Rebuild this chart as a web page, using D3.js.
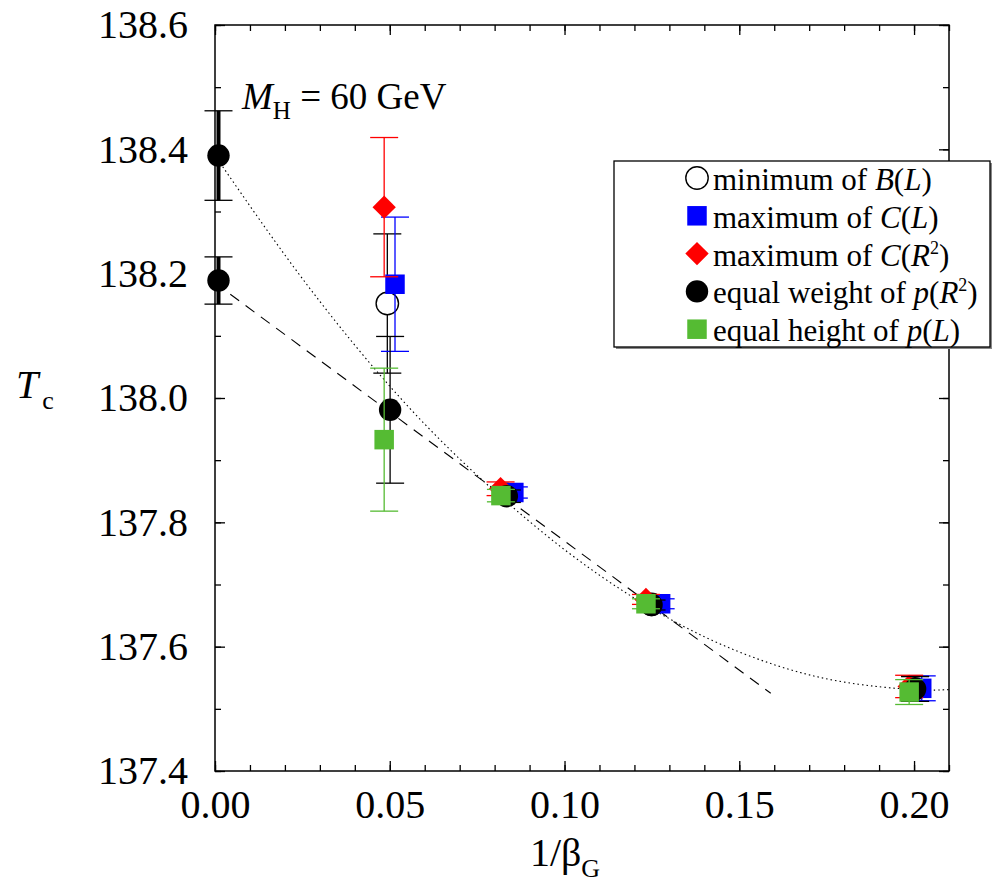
<!DOCTYPE html>
<html>
<head>
<meta charset="utf-8">
<script src="https://cdn.jsdelivr.net/npm/d3@7"></script>
<style>
body { margin: 0; background: #fff; }
text { font-family: "Liberation Serif", "Times New Roman", serif; fill: #000; }
</style>
</head>
<body>
<svg id="chart" width="992" height="890"></svg>
<script>
// tick labels
var xMajor = [0, 0.05, 0.10, 0.15, 0.20];
var yMajor = [137.4, 137.6, 137.8, 138.0, 138.2, 138.4, 138.6];

// [1/beta_G, Tc, error]  (points are shifted a little sideways in the original)
var minB = [[0.0493, 138.152, 0.112], [0.0835, 137.845, 0.010], [0.1249, 137.668, 0.008], [0.2003, 137.532, 0.020]];
var maxCL = [[0.0515, 138.183, 0.108], [0.0855, 137.848, 0.009], [0.1275, 137.669, 0.008], [0.2022, 137.533, 0.020]];
var maxCR2 = [[0.0484, 138.307, 0.112], [0.0817, 137.854, 0.011], [0.1233, 137.676, 0.008], [0.1986, 137.536, 0.018]];
var eqWeight = [[0.0501, 137.981, 0.118], [0.0835, 137.842, 0.010], [0.1249, 137.667, 0.008], [0.2003, 137.532, 0.020]];
var eqHeight = [[0.0484, 137.933, 0.115], [0.0818, 137.843, 0.010], [0.1233, 137.669, 0.008], [0.1986, 137.527, 0.020]];
// continuum extrapolations
var extrap = [[0.001, 138.390, 0.072], [0.001, 138.189, 0.038]];

// fit curves
var dottedFit = [[0, 138.390], [0.02, 138.230], [0.04, 138.085], [0.06, 137.958], [0.08, 137.850],
	[0.10, 137.756], [0.12, 137.678], [0.14, 137.616], [0.16, 137.571], [0.18, 137.543],
	[0.20, 137.531], [0.21, 137.531]];
var dashedFit = [[0, 138.185], [0.159, 137.525]];

var svg = d3.select("#chart");
var x = d3.scaleLinear().domain([0, 0.21]).range([215, 949]);
var y = d3.scaleLinear().domain([137.4, 138.6]).range([771, 25]);

function clean(g) {
	g.select(".domain").remove();
	g.attr("font-family", null).attr("font-size", null);
	g.selectAll("line").attr("stroke", "#000").attr("stroke-width", 1.3);
	g.selectAll("text").style("font-size", "40px");
}

// axes, ticks pointing inward on all four sides
svg.append("g").attr("transform", "translate(0,771)")
	.call(d3.axisBottom(x).tickValues(x.ticks(21)).tickSize(-6).tickFormat("")).call(clean);
svg.append("g").attr("transform", "translate(0,771)")
	.call(d3.axisBottom(x).tickValues(xMajor).tickSize(-10).tickPadding(19).tickFormat(d3.format(".2f"))).call(clean);
svg.append("g").attr("transform", "translate(0,25)")
	.call(d3.axisTop(x).tickValues(x.ticks(21)).tickSize(-6).tickFormat("")).call(clean);
svg.append("g").attr("transform", "translate(0,25)")
	.call(d3.axisTop(x).tickValues(xMajor).tickSize(-10).tickFormat("")).call(clean);

svg.append("g").attr("transform", "translate(215,0)")
	.call(d3.axisLeft(y).tickValues(y.ticks(12)).tickSize(-6).tickFormat("")).call(clean);
svg.append("g").attr("transform", "translate(215,0)")
	.call(d3.axisLeft(y).tickValues(yMajor).tickSize(-10).tickPadding(27).tickFormat(d3.format(".1f"))).call(clean);
svg.append("g").attr("transform", "translate(949,0)")
	.call(d3.axisRight(y).tickValues(y.ticks(12)).tickSize(-6).tickFormat("")).call(clean);
svg.append("g").attr("transform", "translate(949,0)")
	.call(d3.axisRight(y).tickValues(yMajor).tickSize(-10).tickFormat("")).call(clean);

svg.append("rect")
	.attr("x", x(0)).attr("y", y(138.6))
	.attr("width", x(0.21) - x(0)).attr("height", y(137.4) - y(138.6))
	.attr("fill", "none").attr("stroke", "#000").attr("stroke-width", 1.5);

// fits
svg.append("path").datum(dottedFit)
	.attr("d", d3.line().x(d => x(d[0])).y(d => y(d[1])).curve(d3.curveNatural))
	.attr("fill", "none").attr("stroke", "#000").attr("stroke-width", 1.1)
	.attr("stroke-dasharray", "1.5,3");
svg.append("path").datum(dashedFit)
	.attr("d", d3.line().x(d => x(d[0])).y(d => y(d[1])))
	.attr("fill", "none").attr("stroke", "#000").attr("stroke-width", 1.1)
	.attr("stroke-dasharray", "11,8");

function errorBars(data, color, width) {
	var g = svg.append("g").attr("stroke", color);
	g.selectAll(".v").data(data).enter().append("line")
		.attr("x1", d => x(d[0])).attr("x2", d => x(d[0]))
		.attr("y1", d => y(d[1] + d[2])).attr("y2", d => y(d[1] - d[2]))
		.attr("stroke-width", width);
	[1, -1].forEach(function(s) {
		g.selectAll(".c" + s).data(data).enter().append("line")
			.attr("x1", d => x(d[0]) - 14).attr("x2", d => x(d[0]) + 14)
			.attr("y1", d => y(d[1] + s * d[2])).attr("y2", d => y(d[1] + s * d[2]))
			.attr("stroke-width", 1.3);
	});
}

var symCircle = d3.symbol().type(d3.symbolCircle).size(Math.PI * 11.2 * 11.2)();
var symSquare = d3.symbol().type(d3.symbolSquare).size(19.5 * 19.5)();
var symDiamond = d3.symbol().type(d3.symbolSquare).size(16.5 * 16.5)();

function markers(data, path, fill, stroke, rot) {
	svg.append("g").selectAll("path").data(data).enter().append("path")
		.attr("d", path)
		.attr("transform", d => "translate(" + x(d[0]) + "," + y(d[1]) + ")" + (rot ? " rotate(45)" : ""))
		.attr("fill", fill)
		.attr("stroke", stroke)
		.attr("stroke-width", stroke === "none" ? 0 : 1.4);
}

var blue = "#0000ff", red = "#ff0000", green = "#55bb33";

errorBars(minB, "#000", 1.3);
markers(minB, symCircle, "#fff", "#000", false);
errorBars(maxCL, blue, 1.3);
markers(maxCL, symSquare, blue, "none", false);
errorBars(maxCR2, red, 1.3);
markers(maxCR2, symDiamond, red, "none", true);
errorBars(eqWeight, "#000", 1.3);
markers(eqWeight, symCircle, "#000", "none", false);
errorBars(eqHeight, green, 1.3);
markers(eqHeight, symSquare, green, "none", false);

errorBars(extrap, "#000", 4);
markers(extrap, symCircle, "#000", "none", false);

// annotation
var ann = svg.append("text").attr("x", 242).attr("y", 109).style("font-size", "37px");
ann.append("tspan").style("font-style", "italic").text("M");
ann.append("tspan").attr("dy", 10).style("font-size", "25px").text("H");
ann.append("tspan").attr("dy", -10).text(" = 60 GeV");

// axis titles
var yt = svg.append("text").attr("x", 16).attr("y", 398).style("font-size", "40px");
yt.append("tspan").style("font-style", "italic").text("T");
yt.append("tspan").attr("dy", 11).attr("dx", 4).style("font-size", "26px").text("c");

var xt = svg.append("text").attr("x", 565).attr("y", 866).attr("text-anchor", "middle").style("font-size", "40px");
xt.append("tspan").text("1/β");
xt.append("tspan").attr("dy", 11).style("font-size", "26px").text("G");

// legend
var legendNames = [
	[["minimum of ", 0], ["B", 1], ["(", 0], ["L", 1], [")", 0]],
	[["maximum of ", 0], ["C", 1], ["(", 0], ["L", 1], [")", 0]],
	[["maximum of ", 0], ["C", 1], ["(", 0], ["R", 1], ["2", 2], [")", 0]],
	[["equal weight of ", 0], ["p", 1], ["(", 0], ["R", 1], ["2", 2], [")", 0]],
	[["equal height of ", 0], ["p", 1], ["(", 0], ["L", 1], [")", 0]]
];
var legendSyms = [
	[symCircle, "#fff", "#000", false],
	[symSquare, blue, "none", false],
	[symDiamond, red, "none", true],
	[symCircle, "#000", "none", false],
	[symSquare, green, "none", false]
];

var lx = 614, ly = 161, lw = 376, lh = 186;
svg.append("rect").attr("x", lx + 2).attr("y", ly + 2).attr("width", lw).attr("height", lh)
	.attr("fill", "#888");
svg.append("rect").attr("x", lx).attr("y", ly).attr("width", lw).attr("height", lh)
	.attr("fill", "#fff").attr("stroke", "#000").attr("stroke-width", 1.3);

legendNames.forEach(function(parts, i) {
	var cy = 178 + i * 37.8;
	var s = legendSyms[i];
	svg.append("path").attr("d", s[0])
		.attr("transform", "translate(697," + cy + ")" + (s[3] ? " rotate(45)" : ""))
		.attr("fill", s[1]).attr("stroke", s[2]).attr("stroke-width", s[2] === "none" ? 0 : 1.4);
	var t = svg.append("text").attr("x", 713).attr("y", cy + 12).style("font-size", "31px");
	var up = false;
	parts.forEach(function(p) {
		var ts = t.append("tspan").text(p[0]);
		if (p[1] === 1) ts.style("font-style", "italic");
		if (p[1] === 2) { ts.attr("dy", -12).style("font-size", "18px"); up = true; }
		else if (up) { ts.attr("dy", 12); up = false; }
	});
});
</script>
</body>
</html>
